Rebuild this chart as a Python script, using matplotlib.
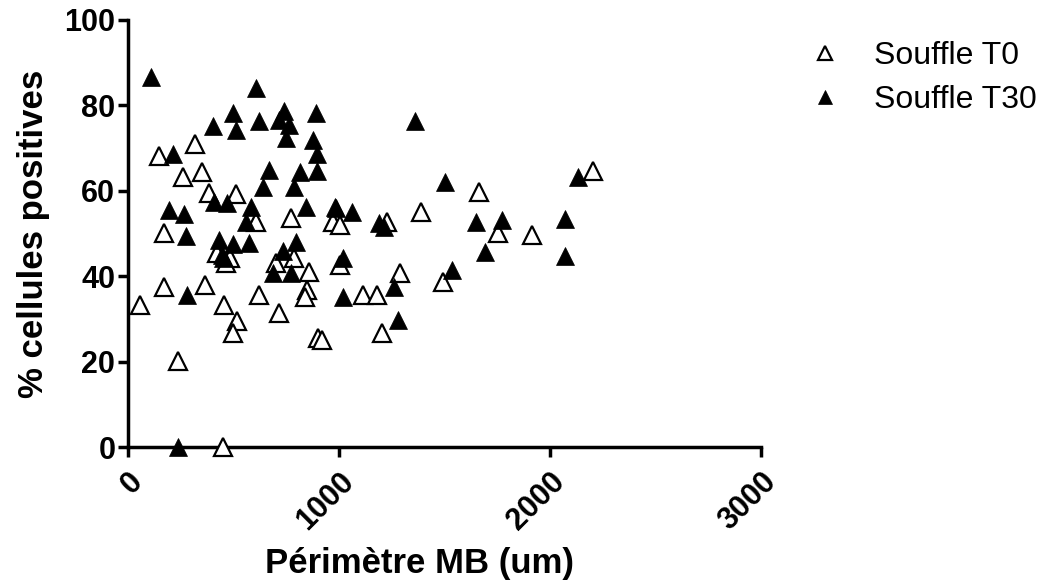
import matplotlib
matplotlib.use("Agg")
import matplotlib.pyplot as plt

plt.rcParams['font.family'] = ['Liberation Sans', 'DejaVu Sans']

# Souffle T0 (open triangles): perimetre MB (um), % cellules positives
t0_x = [147, 317, 260, 350, 383, 511, 606, 771, 970, 170,
        421, 483, 464, 700, 786, 857, 847, 838, 170, 364,
        57, 454, 620, 715, 516, 497, 899, 918, 237, 450,
        2201, 1661, 1387, 1003, 1226, 1751, 1912, 1003, 1287, 1491,
        1112, 1178, 1202]
t0_y = [68.1, 71.0, 63.2, 64.4, 59.5, 59.3, 52.7, 53.6, 52.7, 50.1,
        45.4, 44.3, 43.1, 43.1, 44.3, 41.0, 36.8, 35.1, 37.5, 37.9,
        33.3, 33.3, 35.6, 31.4, 29.5, 26.7, 25.5, 25.1, 20.1, 0,
        64.6, 59.7, 55.0, 52.0, 52.7, 50.1, 49.6, 42.6, 40.7, 38.6,
        35.6, 35.6, 26.7]

# Souffle T30 (filled triangles)
t30_x = [109, 606, 497, 402, 511, 620, 715, 738, 762, 748,
         890, 876, 894, 894, 213, 667, 814, 639, 786, 407,
         469, 194, 265, 582, 558, 842, 980, 274, 431, 497,
         573, 795, 734, 445, 450, 686, 771, 279, 237, 1358,
         1500, 2130, 984, 1060, 1188, 1211, 1647, 1770, 2068, 1018,
         1690, 2068, 1533, 1259, 1018, 1278]
t30_y = [86.7, 84.1, 78.2, 75.2, 74.2, 76.3, 76.6, 78.7, 75.4, 72.4,
         78.2, 71.9, 68.6, 64.6, 68.6, 64.9, 64.4, 60.9, 60.9, 57.4,
         57.1, 55.5, 54.6, 56.2, 52.7, 56.2, 56.2, 49.4, 48.5, 47.5,
         47.8, 48.0, 45.9, 45.0, 44.3, 40.7, 40.7, 35.6, 0, 76.3,
         62.1, 63.2, 56.0, 55.0, 52.5, 51.5, 52.7, 53.2, 53.4, 44.3,
         45.7, 44.7, 41.5, 37.5, 35.1, 29.7]

x_ticks = [0, 1000, 2000, 3000]
y_ticks = [0, 20, 40, 60, 80, 100]

fig = plt.figure(figsize=(10.56, 5.87), dpi=100)
ax = fig.add_axes([0.121, 0.2385, 0.6, 0.7275])

ax.plot(t0_x, t0_y, linestyle='none', marker='^', markersize=13,
        markerfacecolor='white', markeredgecolor='black', markeredgewidth=1.6,
        label='Souffle T0', clip_on=False, zorder=3)
ax.plot(t30_x, t30_y, linestyle='none', marker='^', markersize=13,
        markerfacecolor='black', markeredgecolor='black', markeredgewidth=0.5,
        label='Souffle T30', clip_on=False, zorder=3)

ax.set_xlim(0, 3000)
ax.set_ylim(0, 100)
ax.set_xticks(x_ticks)
ax.set_yticks(y_ticks)
ax.set_xticklabels([str(v) for v in x_ticks], rotation=45, ha='right',
                   va='top', rotation_mode='anchor', fontweight='bold',
                   fontsize=22)
ax.set_yticklabels([str(v) for v in y_ticks], fontweight='bold', fontsize=22)

for side in ('top', 'right'):
    ax.spines[side].set_visible(False)
for side in ('left', 'bottom'):
    ax.spines[side].set_linewidth(2.5)
ax.tick_params(axis='y', direction='out', length=7, width=2.5, pad=2)
ax.tick_params(axis='x', direction='out', length=7, width=2.5, pad=7)

ax.set_xlabel('Périmètre MB (um)', fontsize=25, fontweight='bold')
ax.xaxis.set_label_coords(0.46, -0.235)
ax.set_ylabel('% cellules positives', fontsize=25, fontweight='bold',
              labelpad=10)

leg = ax.legend(loc='upper left', bbox_to_anchor=(801 / 1056, 0.93),
                bbox_transform=fig.transFigure, frameon=False,
                fontsize=23, borderpad=0, borderaxespad=0,
                handlelength=1.5, handletextpad=0.8, labelspacing=0.45,
                markerscale=0.8)

fig.savefig('out.png', dpi=100, facecolor='white')
